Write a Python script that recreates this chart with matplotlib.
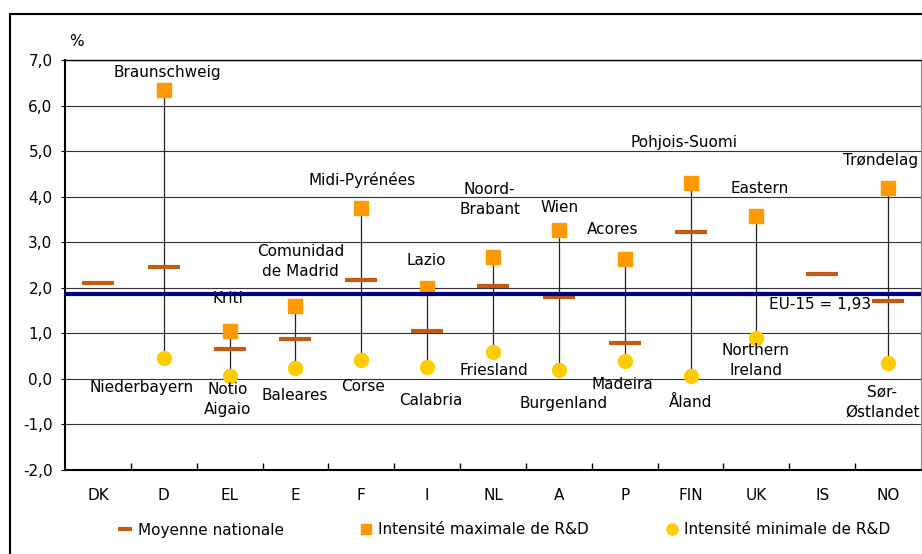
import numpy as np
import matplotlib.pyplot as plt
from matplotlib.lines import Line2D
from matplotlib.patches import Rectangle
from matplotlib.ticker import FuncFormatter, FixedLocator

plt.rcParams['font.family'] = ['DejaVu Sans']

countries = ['DK', 'D', 'EL', 'E', 'F', 'I', 'NL', 'A', 'P', 'FIN', 'UK', 'IS', 'NO']
nat_mean = [2.10, 2.45, 0.66, 0.87, 2.17, 1.05, 2.03, 1.80, 0.78, 3.23, 1.86, 2.31, 1.71]
max_rd = [np.nan, 6.34, 1.05, 1.61, 3.75, 2.00, 2.67, 3.26, 2.63, 4.31, 3.57, np.nan, 4.18]
min_rd = [np.nan, 0.45, 0.06, 0.24, 0.42, 0.27, 0.59, 0.20, 0.40, 0.07, 0.89, np.nan, 0.35]
eu15_line = 1.86
eu15_text = 'EU-15 = 1,93'

# region labels: (text, x, y)
region_labels = [
    ('Braunschweig', 1.06, 6.73),
    ('Niederbayern', 0.66, -0.18),
    ('Notio\nAigaio', 1.97, -0.46),
    ('Baleares', 2.99, -0.37),
    ('Comunidad\nde Madrid', 3.08, 2.57),
    ('Midi-Pyrénées', 4.01, 4.37),
    ('Corse', 4.02, -0.17),
    ('Lazio', 4.99, 2.60),
    ('Calabria', 5.06, -0.48),
    ('Noord-\nBrabant', 5.95, 3.94),
    ('Friesland', 6.02, 0.18),
    ('Wien', 7.01, 3.76),
    ('Burgenland', 7.07, -0.53),
    ('Acores', 7.81, 3.29),
    ('Madeira', 7.96, -0.13),
    ('Pohjois-Suomi', 8.90, 5.18),
    ('Åland', 9.00, -0.51),
    ('Eastern', 10.05, 4.18),
    ('Northern\nIreland', 9.99, 0.40),
    ('Trøndelag', 11.88, 4.80),
    ('Sør-\nØstlandet', 11.91, -0.51),
]

c_mean = '#C55A11'
c_max = '#FF9900'
c_min = '#FFCC00'
c_eu = '#000080'
fs = 11

fig = plt.figure(figsize=(9.22, 5.54), dpi=100)
ax = fig.add_axes([65 / 922, 1 - 470 / 554, 856 / 922, 410 / 554])

x = np.arange(len(countries))

ax.vlines(x, min_rd, max_rd, color='#222222', lw=0.9, zorder=2)
ax.plot(x, nat_mean, ls='none', marker='_', ms=23, mew=3, color=c_mean, zorder=3)
ax.plot(x, max_rd, ls='none', marker='s', ms=10, color=c_max, zorder=3)
ax.plot(x, min_rd, ls='none', marker='o', ms=10, color=c_min, zorder=3)

# Kriti sits under the EU line
ax.text(1.97, 1.76, 'Kriti', ha='center', va='center', fontsize=fs, zorder=1.5)
ax.axhline(eu15_line, color=c_eu, lw=3, zorder=4)
ax.text(10.97, 1.63, eu15_text, ha='center', va='center', fontsize=fs, zorder=5)

for txt, tx, ty in region_labels:
    ax.text(tx, ty, txt, ha='center', va='center', fontsize=fs,
            multialignment='center', linespacing=1.4, zorder=5)

ax.set_xlim(-0.5, len(countries) - 0.5)
ax.set_ylim(-2, 7)
ax.set_yticks(np.arange(-2, 8, 1))
ax.yaxis.set_major_formatter(FuncFormatter(lambda v, p: f'{v:.1f}'.replace('.', ',')))
ax.set_xticks(x)
ax.set_xticklabels(countries)
ax.xaxis.set_minor_locator(FixedLocator(np.arange(0.5, len(countries) - 0.5, 1)))
ax.tick_params(axis='x', which='major', length=0, pad=13, labelsize=fs)
ax.tick_params(axis='x', which='minor', direction='in', length=5, width=1)
ax.tick_params(axis='y', length=3, pad=6, labelsize=fs)

ax.grid(axis='y', color='#333333', lw=0.8, zorder=0)
ax.set_axisbelow(True)
for side in ['left', 'bottom']:
    ax.spines[side].set_linewidth(1.5)
ax.spines['top'].set_linewidth(1.0)
ax.spines['right'].set_color('#888888')
ax.spines['right'].set_linewidth(0.8)

fig.text(76 / 922, 1 - 42 / 554, '%', ha='center', va='center', fontsize=fs)

handles = [
    Line2D([], [], ls='none', marker='_', ms=10, mew=3, color=c_mean),
    Line2D([], [], ls='none', marker='s', ms=7, color=c_max),
    Line2D([], [], ls='none', marker='o', ms=8, color=c_min),
]
fig.legend(handles, ['Moyenne nationale', 'Intensité maximale de R&D',
                     'Intensité minimale de R&D'],
           loc='center left', bbox_to_anchor=(104 / 922, 1 - 530 / 554), ncol=3,
           frameon=False, fontsize=fs, handlelength=1.0, handletextpad=0.3,
           columnspacing=4.9)

fig.add_artist(Rectangle((10 / 922, -0.1), 1.2, 1.1 - 14 / 554, transform=fig.transFigure,
                         fill=False, lw=1.5, ec='black'))

plt.savefig('out.png', dpi=100)
